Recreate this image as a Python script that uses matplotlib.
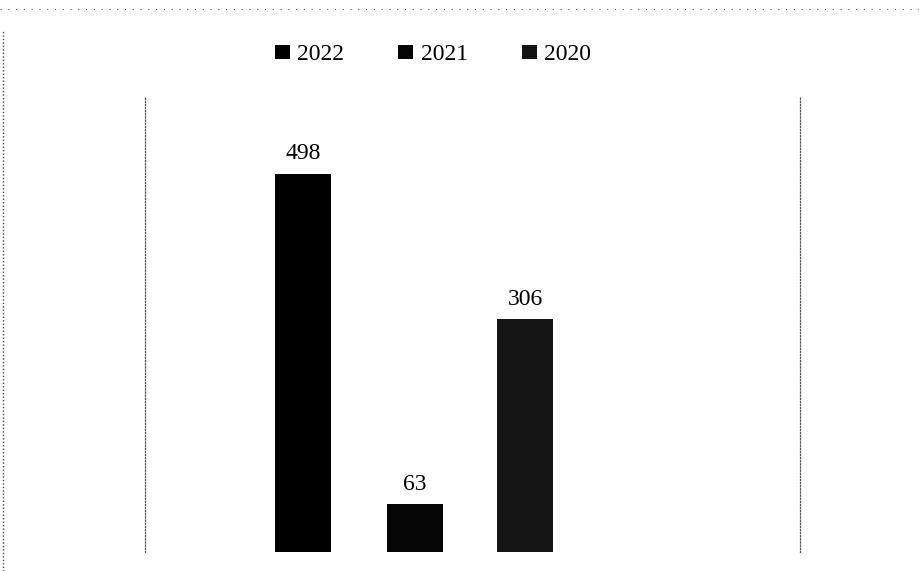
import matplotlib
matplotlib.use("Agg")
import matplotlib.pyplot as plt
from matplotlib.lines import Line2D

# data
years = ["2022", "2021", "2020"]
values = [498, 63, 306]
colors = ["#000000", "#050505", "#151515"]

plt.rcParams['font.family'] = ['Liberation Serif', 'DejaVu Serif']

fig = plt.figure(figsize=(9.2, 5.71), dpi=100)
ax = fig.add_axes([145/920, 19/571, 655/920, 456/571])

pos = [0, 1.01, 2.0]
bars = []
for p, v, c, y in zip(pos, values, colors, years):
    b = ax.bar(p, v, width=0.51, color=c, label=y)
    bars.append(b)
    ax.text(p, v + 12, str(v), ha='center', va='bottom', fontsize=17)

ax.set_xlim(-1.423, 4.477)
ax.set_ylim(0, 600)
ax.set_xticks([])
ax.set_yticks([])
ax.spines['top'].set_visible(False)
ax.spines['bottom'].set_visible(False)
for s in ['left', 'right']:
    ax.spines[s].set_linestyle((0, (1, 1.5)))
    ax.spines[s].set_linewidth(0.9)
    ax.spines[s].set_color('#555555')

leg = fig.legend(handles=[b[0] for b in bars], labels=years, ncol=3,
                 loc='center', bbox_to_anchor=(433/920, 1 - 55/571),
                 frameon=False, fontsize=17, handlelength=0.64,
                 handleheight=0.55, handletextpad=0.3, columnspacing=2.3)

# scanned page border (dotted)
fig.add_artist(Line2D([3/920, 3/920], [0, 1 - 30/571], transform=fig.transFigure,
                      color='#444444', lw=1.0, ls=(0, (1, 1.5))))
fig.add_artist(Line2D([0, 1], [1 - 9/571, 1 - 9/571], transform=fig.transFigure,
                      color='#555555', lw=0.8, ls=(0, (1, 6))))

fig.savefig("out.png", dpi=100, facecolor='white')
